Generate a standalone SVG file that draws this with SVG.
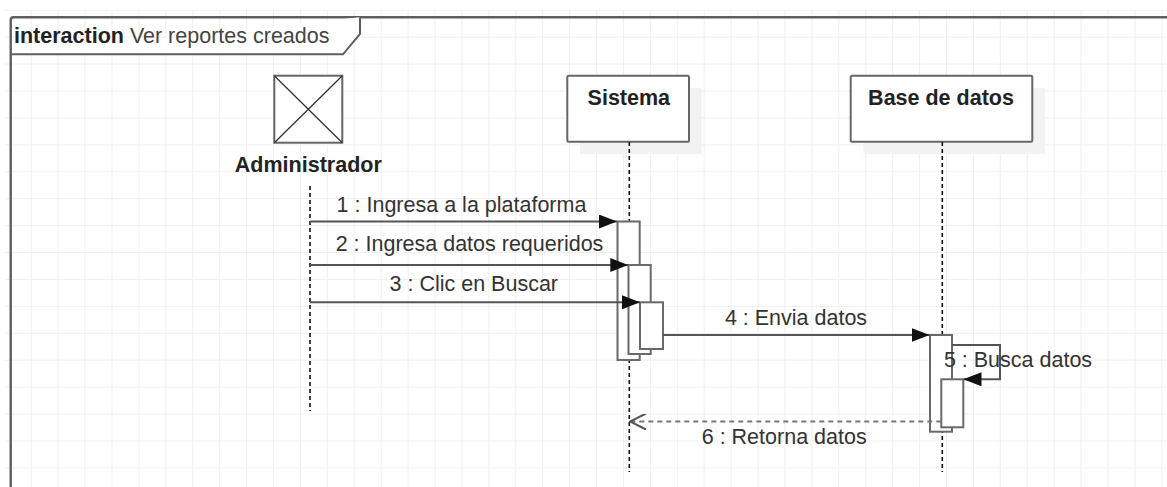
<svg xmlns="http://www.w3.org/2000/svg" width="1167" height="487" viewBox="0 0 1167 487">
  <defs>
    <pattern id="grid" x="3.8" y="9.75" width="26.92" height="26.92" patternUnits="userSpaceOnUse">
      <path d="M 0 0 H 26.92 M 0 0 V 26.92" fill="none" stroke="#efefef" stroke-width="2"/>
    </pattern>
    <marker id="filled" viewBox="0 0 18 14" refX="18" refY="7" markerWidth="18" markerHeight="14" markerUnits="userSpaceOnUse" orient="auto">
      <path d="M 0 0 L 18 7 L 0 14 Z" fill="#111"/>
    </marker>
    <marker id="open" viewBox="0 0 18 16" refX="17" refY="8" markerWidth="18" markerHeight="16" markerUnits="userSpaceOnUse" orient="auto">
      <path d="M 1 0 L 17 8 L 1 16" fill="none" stroke="#555" stroke-width="2"/>
    </marker>
    <style>
      text { font-family: "Liberation Sans", Arial, sans-serif; font-size: 21.5px; }
      .bold { font-weight: bold; fill: #222; }
      .lbl { fill: #333; text-anchor: middle; }
      .life { stroke: #111; stroke-width: 1.6; stroke-dasharray: 4 3; fill: none; }
      .box { fill: #fff; stroke: #666; stroke-width: 2; }
      .act { fill: #fff; stroke: #6a6a6a; stroke-width: 2; }
      .msg { stroke: #555; stroke-width: 2; fill: none; }
      .ret { stroke: #777; stroke-width: 2; stroke-dasharray: 5 4; fill: none; }
      .shadow { fill: #f2f2f2; }
    </style>
  </defs>

  <rect x="0" y="0" width="1167" height="487" fill="#fff"/>
  <rect x="5" y="10" width="1162" height="477" fill="url(#grid)"/>

  <g id="frame">
    <path d="M 10.7 487 V 20 Q 10.7 17.3 13.5 17.3 H 1167" fill="none" stroke="#5e5e5e" stroke-width="2.4"/>
    <path d="M 10.7 54.3 H 343 L 360 34 V 17.3" fill="#fff" stroke="#5e5e5e" stroke-width="2"/>
    <text x="14" y="42.7"><tspan class="bold" fill="#222">interaction</tspan><tspan fill="#444"> Ver reportes creados</tspan></text>
  </g>

  <g id="administrador">
    <rect class="box" x="274.3" y="75.7" width="68" height="67"/>
    <path d="M 274.3 75.7 L 342.3 142.7 M 342.3 75.7 L 274.3 142.7" stroke="#333" stroke-width="1.3"/>
    <text class="bold" x="308.3" y="171.7" text-anchor="middle">Administrador</text>
    <line class="life" x1="310" y1="186" x2="310" y2="411"/>
  </g>

  <g id="sistema">
    <rect class="shadow" x="580" y="88" width="121.7" height="66"/>
    <rect class="box" x="567.3" y="75.7" width="121.7" height="66" rx="1.5"/>
    <text class="bold" x="628.8" y="105" text-anchor="middle">Sistema</text>
    <line class="life" x1="629.3" y1="142" x2="629.3" y2="472"/>
  </g>

  <g id="base-de-datos">
    <rect class="shadow" x="863.3" y="88" width="181.6" height="66"/>
    <rect class="box" x="850.7" y="75.7" width="181.6" height="66" rx="1.5"/>
    <text class="bold" x="941" y="105" text-anchor="middle">Base de datos</text>
    <line class="life" x1="942.3" y1="142" x2="942.3" y2="472"/>
  </g>

  <g id="activations">
    <rect class="act" x="617.5" y="221.5" width="22.2" height="138.5"/>
    <rect class="act" x="628.5" y="265" width="22.2" height="89"/>
    <rect class="act" x="640" y="302.3" width="23" height="46.7"/>
    <rect class="act" x="930" y="335" width="22" height="96.7"/>
    <rect class="act" x="941.3" y="379.3" width="22" height="48"/>
  </g>

  <g id="connectors">
    <line class="msg" x1="310" y1="221.5" x2="617" y2="221.5" marker-end="url(#filled)"/>
    <line class="msg" x1="310" y1="265" x2="628.3" y2="265" marker-end="url(#filled)"/>
    <line class="msg" x1="310" y1="302.3" x2="640" y2="302.3" marker-end="url(#filled)"/>
    <line class="msg" x1="663" y1="335" x2="929.5" y2="335" marker-end="url(#filled)"/>
    <path class="msg" d="M 952 345 H 1000 V 379.3 H 963.5" marker-end="url(#filled)"/>
    <line class="ret" x1="941.3" y1="421.5" x2="630" y2="421.5" marker-end="url(#open)"/>
  </g>

  <g id="labels">
    <text class="lbl" x="461.5" y="211.7">1 : Ingresa a la plataforma</text>
    <text class="lbl" x="469.5" y="250.7">2 : Ingresa datos requeridos</text>
    <text class="lbl" x="473.8" y="291">3 : Clic en Buscar</text>
    <text class="lbl" x="796" y="325">4 : Envia datos</text>
    <text class="lbl" x="1018" y="366.7">5 : Busca datos</text>
    <text class="lbl" x="784.2" y="444">6 : Retorna datos</text>
  </g>
</svg>
